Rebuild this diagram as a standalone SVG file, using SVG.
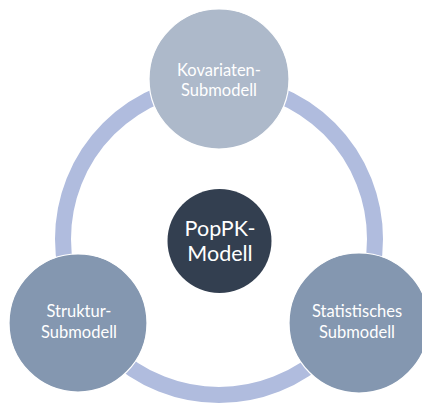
<svg xmlns="http://www.w3.org/2000/svg" width="422" height="403" viewBox="0 0 422 403">
  <style>
    .node { stroke: #ffffff; stroke-width: 1.2; }
    .outer-light { fill: #ADB9CA; }
    .outer-dark { fill: #8497B0; }
    .core { fill: #333F50; }
    .label { font-family: Lato, "Open Sans", "Liberation Sans", sans-serif; fill: #ffffff; text-anchor: middle; }
    .small { font-size: 16.5px; }
    .big { font-size: 21.5px; }
  </style>
  <rect width="422" height="403" fill="#ffffff"/>

  <!-- cycle ring connecting the three sub-models -->
  <g id="connectors">
    <circle cx="219" cy="239" r="156" fill="none" stroke="#B0BCDE" stroke-width="16"/>
  </g>

  <g id="kovariaten">
    <circle class="node outer-light" cx="219" cy="79" r="70"/>
    <text class="label small" x="219" y="76">Kovariaten-</text>
    <text class="label small" x="219" y="96">Submodell</text>
  </g>

  <g id="struktur">
    <circle class="node outer-dark" cx="78" cy="323" r="69"/>
    <text class="label small" x="79" y="317">Struktur-</text>
    <text class="label small" x="79" y="338">Submodell</text>
  </g>

  <g id="statistisch">
    <circle class="node outer-dark" cx="359" cy="323" r="70"/>
    <text class="label small" x="357" y="317">Statistisches</text>
    <text class="label small" x="357" y="338">Submodell</text>
  </g>

  <g id="popPK">
    <circle class="core" cx="219.5" cy="241" r="52"/>
    <text class="label big" x="220" y="236">PopPK-</text>
    <text class="label big" x="220" y="261">Modell</text>
  </g>
</svg>
